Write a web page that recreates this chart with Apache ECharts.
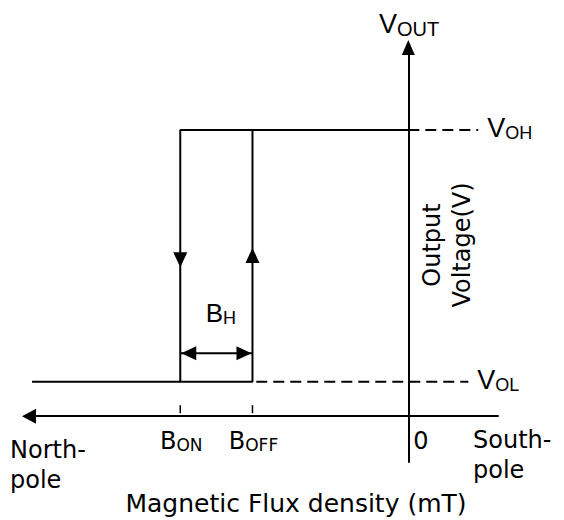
<!DOCTYPE html>
<html><head><meta charset="utf-8">
<script src="https://cdn.jsdelivr.net/npm/echarts@6/dist/echarts.min.js"></script>
<style>html,body{margin:0;padding:0;background:#fff}#c{width:564px;height:520px}</style>
</head><body><div id="c"></div>
<script>
// ---- data (schematic values) ----
const switchFlux   = [-3.0, -2.05];      // B_ON, B_OFF  (mT)
const switchNames  = ['ON', 'OFF'];
const outputLevels = [0.6, 5.0];         // V_OL, V_OH   (V)
const levelNames   = ['OL', 'OH'];
const levelDashEnd = [0.79, 0.92];       // where the dashed guide lines stop (mT)
const fluxRange    = [-4.99, 1.18];      // horizontal axis extent (mT)
const voltRange    = [-0.80, 6.44];      // vertical axis extent (V)
const lowBranchStart = -4.95;            // low output line start (mT)
const lowDashStart   = -2.0;             // dashed V_OL guide start (mT)
const arrowFlux    = [-3.0, -2.05];      // direction arrows on the vertical branches
const arrowVolt    = [2.6, 2.94];
const arrowDir     = [0, 1];             // 0 = down, 1 = up
const hystLevel    = 1.1;                // height of the B_H dimension arrow (V)

const BON = switchFlux[0], BOFF = switchFlux[1];
const VOL = outputLevels[0], VOH = outputLevels[1];

const SANS = 'DejaVu Sans';
const ARIAL = 'Liberation Sans';
const mctx = document.createElement('canvas').getContext('2d');
function textW(t, size, fam) { mctx.font = size + 'px "' + fam + '"'; return mctx.measureText(t).width; }

function subText(x, y, main, sub, fam, mSize, sSize, align, subDy) {
  const wm = textW(main, mSize, fam), ws = textW(sub, sSize, fam);
  const x0 = align === 'center' ? x - (wm + ws) / 2 : x;
  return {
    type: 'group',
    children: [
      { type: 'text', style: { text: main, x: x0, y: y, fontSize: mSize, fontFamily: fam, fill: '#000', align: 'left', verticalAlign: 'middle' } },
      { type: 'text', style: { text: sub, x: x0 + wm, y: y + subDy, fontSize: sSize, fontFamily: fam, fill: '#000', align: 'left', verticalAlign: 'middle' } }
    ]
  };
}

const chart = echarts.init(document.getElementById('c'), null, { renderer: 'svg', width: 564, height: 520 });

const solid = { color: '#000', width: 2 };
const dashed = { color: '#000', width: 2, type: [11, 6] };

const option = {
  animation: false,
  backgroundColor: '#fff',
  grid: { left: 29, right: 66, top: 47.5, bottom: 58, containLabel: false },
  xAxis: {
    type: 'value', min: fluxRange[0], max: fluxRange[1],
    axisLine: { show: true, onZero: true, symbol: ['triangle', 'none'], symbolSize: [15, 14], lineStyle: { color: '#000', width: 2 } },
    axisTick: { show: false }, axisLabel: { show: false }, splitLine: { show: false }
  },
  yAxis: {
    type: 'value', min: voltRange[0], max: voltRange[1],
    axisLine: { show: true, onZero: true, symbol: ['none', 'triangle'], symbolSize: [13, 15], lineStyle: { color: '#000', width: 2 } },
    axisTick: { show: false }, axisLabel: { show: false }, splitLine: { show: false }
  },
  series: [
    { type: 'line', symbol: 'none', lineStyle: solid, data: [[lowBranchStart, VOL], [BOFF, VOL], [BOFF, VOH]] },
    { type: 'line', symbol: 'none', lineStyle: solid, data: [[0, VOH], [BON, VOH], [BON, VOL]] },
    { type: 'line', symbol: 'none', lineStyle: dashed, data: [[0, VOH], [levelDashEnd[1], VOH]] },
    { type: 'line', symbol: 'none', lineStyle: dashed, data: [[lowDashStart, VOL], [levelDashEnd[0], VOL]] },
    { type: 'line', symbol: 'none', lineStyle: solid, data: [[BON, hystLevel], [BOFF, hystLevel]] },
    {
      type: 'custom',
      data: arrowFlux.map((b, i) => [b, arrowVolt[i], arrowDir[i]])
        .concat([[BON, hystLevel, 2], [BOFF, hystLevel, 3]]),
      encode: { x: 0, y: 1 },
      renderItem: function (params, api) {
        const p = api.coord([api.value(0), api.value(1)]);
        const d = api.value(2);
        const L = 15, W = 7;
        let pts, extra = [];
        if (d === 0) {
          pts = [[p[0], p[1]], [p[0] - W, p[1] - L], [p[0] + W, p[1] - L]];
          extra.push({ type: 'rect', shape: { x: p[0] - 2, y: p[1], width: 4, height: 3 }, style: { fill: '#fff' } });
        }
        else if (d === 1) pts = [[p[0], p[1]], [p[0] - W, p[1] + L], [p[0] + W, p[1] + L]];
        else if (d === 2) pts = [[p[0] + 1, p[1]], [p[0] + 1 + L, p[1] - W], [p[0] + 1 + L, p[1] + W]];
        else pts = [[p[0] - 1, p[1]], [p[0] - 1 - L, p[1] - W], [p[0] - 1 - L, p[1] + W]];
        return { type: 'group', children: extra.concat([{ type: 'polygon', shape: { points: pts }, style: { fill: '#000' } }]) };
      }
    },
    {
      type: 'custom',
      data: switchFlux.map((b, i) => [b, 0, i]),
      encode: { x: 0, y: 1 },
      renderItem: function (params, api) {
        const p = api.coord([api.value(0), api.value(1)]);
        const i = api.value(2);
        return {
          type: 'group',
          children: [
            { type: 'line', shape: { x1: p[0], y1: p[1] - 11, x2: p[0], y2: p[1] - 3 }, style: { stroke: '#000', lineWidth: 1.5 } },
            subText(p[0] + 1, p[1] + 24.6, 'B', switchNames[i], SANS, 24, 17, 'center', 4.6)
          ]
        };
      }
    },
    {
      type: 'custom',
      data: [[0, 0]],
      encode: { x: 0, y: 1 },
      renderItem: function (params, api) {
        const p = api.coord([api.value(0), api.value(1)]);
        return { type: 'text', style: { text: '0', x: p[0] + 5, y: p[1] + 24.6, fontSize: 24, fontFamily: SANS, fill: '#000', align: 'left', verticalAlign: 'middle' } };
      }
    },
    {
      type: 'custom',
      data: outputLevels.map((v, i) => [levelDashEnd[i], v, i]),
      encode: { x: 0, y: 1 },
      renderItem: function (params, api) {
        const p = api.coord([api.value(0), api.value(1)]);
        const i = api.value(2);
        return subText(p[0] + 9, p[1] - 2, 'V', levelNames[i], ARIAL, 27, 18, 'left', 5.4);
      }
    },
    {
      type: 'custom',
      data: [[(BON + BOFF) / 2, hystLevel]],
      encode: { x: 0, y: 1 },
      renderItem: function (params, api) {
        const p = api.coord([api.value(0), api.value(1)]);
        return subText(p[0] + 4.5, p[1] - 40, 'B', 'H', ARIAL, 26, 18, 'center', 4.8);
      }
    }
  ],
  graphic: [
    { type: 'group', children: [
      { type: 'text', x: 379, y: 23.6, style: { text: 'V', fontSize: 27, fontFamily: ARIAL, fill: '#000', verticalAlign: 'middle' } },
      { type: 'text', x: 397, y: 29, style: { text: 'OUT', fontSize: 20, fontFamily: ARIAL, fill: '#000', verticalAlign: 'middle' } }
    ] },
    { type: 'text', x: 447, y: 245, rotation: Math.PI / 2,
      style: { text: 'Output\nVoltage(V)', fontSize: 24, fontFamily: SANS, fill: '#000', align: 'center', verticalAlign: 'middle', lineHeight: 30 } },
    { type: 'text', x: 10, y: 464.6, style: { text: 'North-\npole', fontSize: 24, fontFamily: SANS, fill: '#000', align: 'left', verticalAlign: 'middle', lineHeight: 30 } },
    { type: 'text', x: 473, y: 454.6, style: { text: 'South-\npole', fontSize: 24, fontFamily: SANS, fill: '#000', align: 'left', verticalAlign: 'middle', lineHeight: 30 } },
    { type: 'text', x: 296, y: 503, style: { text: 'Magnetic Flux density (mT)', fontSize: 25, fontFamily: SANS, fill: '#000', align: 'center', verticalAlign: 'middle' } }
  ]
};
chart.setOption(option);
</script>
</body></html>
